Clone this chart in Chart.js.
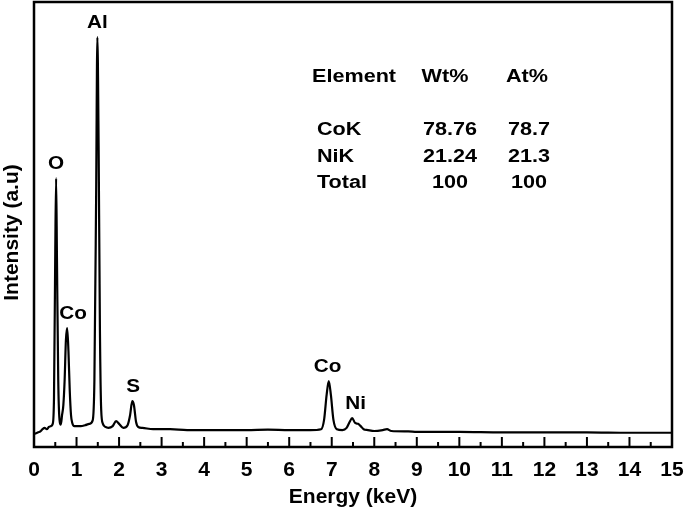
<!DOCTYPE html>
<html>
<head>
<meta charset="utf-8">
<script src="https://cdn.jsdelivr.net/npm/chart.js@4"></script>
<style>
  html, body { margin: 0; padding: 0; background: #fff; }
  #wrap { width: 685px; height: 510px; position: relative; }
</style>
</head>
<body>
<div id="wrap"><canvas id="c"></canvas></div>
<script>
// ---- data ----
const energy = [0.00,0.05,0.10,0.15,0.20,0.25,0.30,0.35,0.40,0.44,0.47,0.50,0.52,0.54,0.57,0.60,0.63,0.66,0.69,0.72,0.75,0.78,0.81,0.84,0.87,0.90,0.95,1.00,1.10,1.20,1.30,1.38,1.42,1.46,1.49,1.52,1.55,1.58,1.62,1.68,1.75,1.85,1.93,2.00,2.10,2.20,2.26,2.31,2.35,2.40,2.45,2.55,2.80,3.20,3.60,4.00,4.50,5.00,5.50,6.00,6.50,6.75,6.82,6.88,6.93,6.98,7.04,7.12,7.25,7.35,7.42,7.48,7.55,7.62,7.68,7.75,7.85,8.00,8.20,8.30,8.40,8.80,9.00,10.0,11.0,12.0,13.0,14.0,15.0];
const intensity = [29,31,33,35,40,43,40,45,47,52,110,440,604,420,150,61,50,72,94,150,240,267,215,128,72,54,47,47,47,49,52,60,150,555,921,667,263,83,52,45,43,47,58,52,43,49,72,103,94,56,45,43,40,40,38,38,38,38,39,38,38,40,61,117,148,117,61,40,38,43,56,65,54,52,47,40,38,36,38,40,36,35,34,34,33,33,33,32,32];

const peakLabels = ['O','Co','Al','S','Co','Ni'];
const peakLabelEnergy = [0.52, 0.92, 1.49, 2.33, 6.90, 7.56];
const peakLabelIntensity = [604, 267, 921, 103, 148, 65];

const tableHeader = ['Element','Wt%','At%'];
const tableElements = ['CoK','NiK','Total'];
const tableWt = ['78.76','21.24','100'];
const tableAt = ['78.7','21.3','100'];

const xTickValues = [0,1,2,3,4,5,6,7,8,9,10,11,12,13,14,15];

// ---- chart ----
const FONT = '"Liberation Sans", Arial, Helvetica, sans-serif';
const points = energy.map((e, i) => ({x: e, y: intensity[i]}));

function stretchedText(ctx, txt, x, y, align, sx) {
  ctx.save();
  ctx.translate(x, y);
  ctx.scale(sx, 1);
  ctx.textAlign = align;
  ctx.textBaseline = 'middle';
  ctx.fillText(txt, 0, 0);
  ctx.restore();
}

const decor = {
  id: 'decor',
  afterDatasetsDraw(chart) {
    const ctx = chart.ctx;
    const a = chart.chartArea;
    const xs = chart.scales.x, ys = chart.scales.y;
    ctx.save();
    // frame
    ctx.strokeStyle = '#000';
    ctx.lineWidth = 2.5;
    ctx.strokeRect(a.left, a.top, a.right - a.left, a.bottom - a.top);
    // inward ticks
    ctx.lineWidth = 2;
    xTickValues.forEach((v, i) => {
      const px = xs.getPixelForValue(v);
      if (i > 0 && i < xTickValues.length - 1) {
        ctx.beginPath(); ctx.moveTo(px, a.bottom); ctx.lineTo(px, a.bottom - 10); ctx.stroke();
      }
      if (i < xTickValues.length - 1) {
        const pm = xs.getPixelForValue(v + 0.5);
        ctx.beginPath(); ctx.moveTo(pm, a.bottom); ctx.lineTo(pm, a.bottom - 5); ctx.stroke();
      }
    });
    // peak labels
    ctx.fillStyle = '#000';
    ctx.font = 'bold 18px ' + FONT;
    peakLabels.forEach((t, i) => {
      const px = xs.getPixelForValue(peakLabelEnergy[i]);
      const py = ys.getPixelForValue(peakLabelIntensity[i]) - 14;
      stretchedText(ctx, t, px, py, 'center', 1.15);
    });
    // table
    const rowY = [77, 130, 157, 183];
    stretchedText(ctx, tableHeader[0], 312, rowY[0], 'left', 1.2);
    stretchedText(ctx, tableHeader[1], 445, rowY[0], 'center', 1.2);
    stretchedText(ctx, tableHeader[2], 527, rowY[0], 'center', 1.2);
    tableElements.forEach((el, i) => {
      stretchedText(ctx, el, 317, rowY[i + 1], 'left', 1.2);
      stretchedText(ctx, tableWt[i], 450, rowY[i + 1], 'center', 1.2);
      stretchedText(ctx, tableAt[i], 529, rowY[i + 1], 'center', 1.2);
    });
    // y title
    ctx.font = 'bold 21px ' + FONT;
    ctx.save();
    ctx.translate(12, (a.top + a.bottom) / 2 + 8);
    ctx.rotate(-Math.PI / 2);
    ctx.textAlign = 'center';
    ctx.textBaseline = 'middle';
    ctx.fillText('Intensity (a.u)', 0, 0);
    ctx.restore();
    ctx.restore();
  }
};

new Chart(document.getElementById('c'), {
  type: 'line',
  data: {
    datasets: [{
      data: points,
      borderColor: '#000',
      borderWidth: 2.2,
      pointRadius: 0,
      fill: false,
      cubicInterpolationMode: 'monotone'
    }]
  },
  options: {
    responsive: true,
    maintainAspectRatio: false,
    animation: false,
    devicePixelRatio: 1,
    layout: { padding: { left: 34, right: 13, top: 2, bottom: 0 } },
    plugins: { legend: { display: false }, tooltip: { enabled: false } },
    scales: {
      x: {
        type: 'linear',
        min: 0, max: 15,
        afterBuildTicks(scale) { scale.ticks = xTickValues.map(v => ({value: v})); },
        afterFit(scale) { scale.paddingLeft = 0; scale.paddingRight = 0; },
        grid: { display: false, drawTicks: false },
        border: { display: false },
        ticks: {
          color: '#000',
          padding: 11,
          maxRotation: 0,
          font: { family: FONT, size: 21, weight: 'bold' }
        },
        title: {
          display: true,
          text: 'Energy (keV)',
          color: '#000',
          padding: { top: -9.4, bottom: 0 },
          font: { family: FONT, size: 21, weight: 'bold' }
        }
      },
      y: {
        display: false,
        min: 0, max: 1000
      }
    }
  },
  plugins: [decor]
});
</script>
</body>
</html>
